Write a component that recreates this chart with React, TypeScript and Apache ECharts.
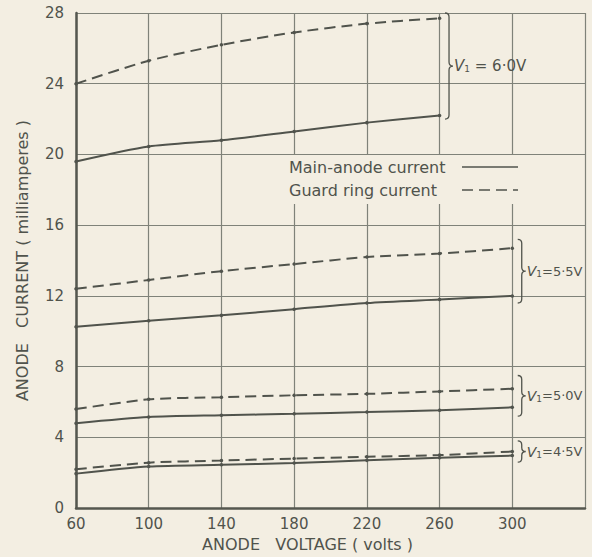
import React, { useEffect, useRef } from 'react';
import * as echarts from 'echarts';

// ---- data ----
const voltages = [60, 100, 140, 180, 220, 260, 300];

const main60 = [19.6, 20.45, 20.8, 21.3, 21.8, 22.2];
const guard60 = [24.0, 25.3, 26.2, 26.9, 27.4, 27.7];
const main55 = [10.25, 10.6, 10.9, 11.25, 11.6, 11.8, 12.0];
const guard55 = [12.4, 12.9, 13.4, 13.8, 14.2, 14.4, 14.7];
const main50 = [4.8, 5.15, 5.25, 5.33, 5.43, 5.54, 5.7];
const guard50 = [5.6, 6.15, 6.27, 6.38, 6.46, 6.6, 6.75];
const main45 = [1.95, 2.35, 2.45, 2.55, 2.7, 2.85, 2.97];
const guard45 = [2.2, 2.57, 2.69, 2.8, 2.9, 3.0, 3.2];

const bracketLabels = ['6·0V', '5·5V', '5·0V', '4·5V'];
const bracketX = [263, 303, 303, 303];
const bracketLow = [22.0, 11.6, 5.2, 2.6];
const bracketHigh = [28.0, 15.2, 7.5, 3.8];

const MAIN_NAME = 'Main-anode current';
const GUARD_NAME = 'Guard ring current';

const INK = '#50534c';
const GRID = '#7f8279';
const BG = '#f3eee2';
const FONT = '"DejaVu Sans", sans-serif';

function lineSeries(name: string, vals: number[], dashed: boolean) {
  return {
    type: 'line',
    name,
    data: vals.map((v, i) => [voltages[i], v]),
    smooth: 0.25,
    symbol: 'circle',
    symbolSize: 3.5,
    showSymbol: true,
    lineStyle: { color: INK, width: 2, type: dashed ? [11, 6] : 'solid' },
    itemStyle: { color: INK },
    z: 3,
    silent: true,
  };
}

export default function App() {
  const ref = useRef<HTMLDivElement>(null);
  useEffect(() => {
    if (!ref.current) return;
    const chart = echarts.init(ref.current, undefined, { renderer: 'svg' });
    const option: any = {
      animation: false,
      backgroundColor: BG,
      textStyle: { fontFamily: FONT },
      grid: { left: 76, right: 7, top: 13, bottom: 44 },
      legend: {
        data: [MAIN_NAME, GUARD_NAME],
        orient: 'vertical',
        left: 283,
        top: 155,
        align: 'right',
        itemWidth: 56,
        itemHeight: 10,
        itemGap: 7,
        padding: [4, 10, 6, 6],
        backgroundColor: BG,
        selectedMode: false,
        formatter: (name: string) => `{a|${name}}`,
        textStyle: {
          fontSize: 16,
          color: INK,
          fontFamily: FONT,
          rich: { a: { width: 168, align: 'left', fontSize: 16, color: INK, fontFamily: FONT } },
        },
        itemStyle: { opacity: 0 },
        lineStyle: { width: 1.3 },
      },
      xAxis: {
        type: 'value',
        min: 60,
        max: 340,
        interval: 40,
        name: 'ANODE   VOLTAGE ( volts )',
        nameLocation: 'middle',
        nameGap: 23,
        nameTextStyle: { fontSize: 16, color: INK, fontFamily: FONT, padding: [0, 46, 0, 0] },
        axisLine: { show: true, lineStyle: { color: '#55574f', width: 2.5 } },
        axisTick: { show: false },
        axisLabel: {
          fontSize: 15,
          color: INK,
          margin: 8,
          formatter: (v: number) => (v > 300 ? '' : String(v)),
        },
        splitLine: { show: true, lineStyle: { color: GRID, width: 1.2 } },
      },
      yAxis: {
        type: 'value',
        min: 0,
        max: 28,
        interval: 4,
        name: 'ANODE   CURRENT ( milliamperes )',
        nameLocation: 'middle',
        nameGap: 46,
        nameTextStyle: { fontSize: 16, color: INK, fontFamily: FONT },
        axisLine: { show: true, lineStyle: { color: '#55574f', width: 2.5 } },
        axisTick: { show: false },
        axisLabel: { fontSize: 15, color: INK, margin: 12 },
        splitLine: { show: true, lineStyle: { color: GRID, width: 1.2 } },
      },
      series: [
        lineSeries(MAIN_NAME, main60, false),
        lineSeries(GUARD_NAME, guard60, true),
        lineSeries(MAIN_NAME, main55, false),
        lineSeries(GUARD_NAME, guard55, true),
        lineSeries(MAIN_NAME, main50, false),
        lineSeries(GUARD_NAME, guard50, true),
        lineSeries(MAIN_NAME, main45, false),
        lineSeries(GUARD_NAME, guard45, true),
        {
          type: 'custom',
          name: 'brackets',
          silent: true,
          clip: false,
          z: 4,
          data: bracketX.map((x, i) => [x, bracketLow[i], bracketHigh[i], i]),
          encode: { x: 0, y: [1, 2] },
          renderItem: (params: any, api: any) => {
            const x = api.value(0);
            const lo = api.value(1);
            const hi = api.value(2);
            const idx = api.value(3);
            const pTop = api.coord([x, hi]);
            const pBot = api.coord([x, lo]);
            const x0 = pTop[0];
            const t = pTop[1];
            const b = pBot[1];
            const m = (t + b) / 2;
            const w = 4;
            const d =
              `M${x0} ${t} Q${x0 + w} ${t} ${x0 + w} ${t + w} L${x0 + w} ${m - w} ` +
              `Q${x0 + w} ${m} ${x0 + 2 * w} ${m} Q${x0 + w} ${m} ${x0 + w} ${m + w} ` +
              `L${x0 + w} ${b - w} Q${x0 + w} ${b} ${x0} ${b}`;
            const sep = idx === 0 ? ' = ' : '=';
            return {
              type: 'group',
              children: [
                {
                  type: 'path',
                  shape: { pathData: d },
                  style: { stroke: INK, fill: 'none', lineWidth: 1.3 },
                },
                {
                  type: 'text',
                  x: x0 + 2 * w + 1,
                  y: m,
                  style: {
                    text: `{v|V}{s|1}{n|${sep}${bracketLabels[idx]}}`,
                    align: 'left',
                    verticalAlign: 'middle',
                    fill: INK,
                    rich: {
                      v: { fontSize: idx === 0 ? 15 : 14, fontStyle: 'italic', fill: INK, fontFamily: FONT },
                      s: { fontSize: 9, padding: [6, 0, 0, 0], fill: INK, fontFamily: FONT },
                      n: { fontSize: idx === 0 ? 15 : 13, fill: INK, fontFamily: FONT },
                    },
                  },
                },
              ],
            };
          },
        },
      ],
    };
    chart.setOption(option);
    return () => chart.dispose();
  }, []);
  return (
    <div
      ref={ref}
      style={{ position: 'absolute', left: 0, top: 0, width: 592, height: 557 }}
    />
  );
}
